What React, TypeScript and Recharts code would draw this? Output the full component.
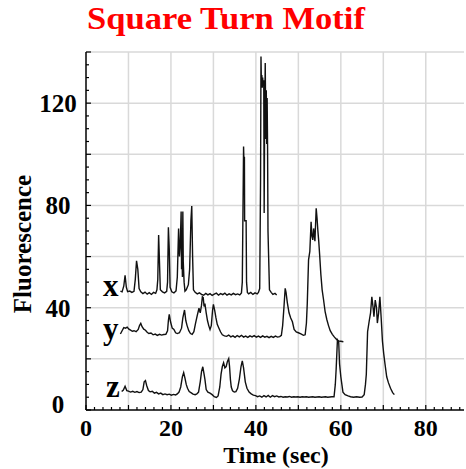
import React from 'react';
import { LineChart, Line, XAxis, YAxis, CartesianGrid, Label } from 'recharts';

// time (sec) / fluorescence pairs
const xTrace: [number, number][] = [
  [8.1, 46.5], [8.5, 46.2], [8.9, 48.5], [9.2, 52.7], [9.5, 48], [9.8, 46.3], [10.3, 46.5], [10.8, 46.0],
  [11.3, 46.4], [11.6, 51], [11.9, 58.3], [12.2, 55], [12.5, 47.5], [12.9, 46.2], [13.4, 45.5], [13.9, 46.1],
  [14.4, 45.3], [14.9, 45.9], [15.4, 45.2], [15.9, 46.0], [16.4, 45.6], [16.7, 47], [16.9, 51], [17.1, 68.4],
  [17.3, 58], [17.5, 47], [18.0, 46.2], [18.5, 45.8], [19.0, 46.4], [19.2, 50], [19.4, 71.5], [19.6, 63],
  [19.8, 48], [20.2, 46.2], [20.7, 45.8], [21.2, 46.6], [21.5, 52], [21.8, 71], [22.0, 60], [22.2, 65],
  [22.4, 77.6], [22.5, 55], [22.6, 62], [22.7, 52], [22.8, 77.6], [22.9, 58], [23.1, 50], [23.3, 46.5],
  [23.6, 47], [24.1, 49], [24.4, 55], [24.7, 74], [24.9, 79.8], [25.1, 60], [25.3, 47], [25.7, 46],
  [26.2, 45.4], [26.7, 45.8], [27.2, 45.2], [27.7, 44.9], [28.2, 45.6], [28.7, 45.0], [29.2, 45.5], [29.7, 44.8],
  [30.2, 45.3], [30.7, 45.7], [31.2, 44.9], [31.7, 45.5], [32.2, 45.1], [32.7, 45.7], [33.2, 44.9], [33.7, 45.4],
  [34.2, 45.0], [34.7, 45.6], [35.2, 45.1], [35.7, 45.4], [36.2, 45.0], [36.6, 45.8], [36.8, 50], [37.0, 85],
  [37.1, 103], [37.2, 96], [37.3, 99], [37.35, 74], [37.7, 74], [37.8, 50], [38.0, 46], [38.3, 45.4],
  [38.8, 46.0], [39.3, 45.2], [39.8, 45.8], [40.3, 45.4], [40.6, 46], [40.9, 47.5], [41.1, 90], [41.2, 138.2],
  [41.3, 127], [41.4, 131], [41.5, 126], [41.6, 130], [41.7, 127], [41.85, 129], [41.95, 77], [42.05, 110],
  [42.2, 135.7], [42.35, 106], [42.45, 125], [42.55, 104], [42.65, 122], [42.75, 103], [42.85, 70], [43.0, 60],
  [43.2, 47], [43.6, 46], [44.0, 45.2], [44.5, 45.6], [44.9, 45.0],
];

const yTrace: [number, number][] = [
  [8.1, 29.7], [8.5, 31], [8.9, 32.2], [9.3, 32.0], [9.7, 32.4], [10.1, 31.6], [10.5, 31.2], [10.9, 30.8],
  [11.3, 31.0], [11.8, 30.6], [12.3, 31.5], [12.6, 33], [12.9, 33.9], [13.2, 32.6], [13.6, 31.6], [14.0, 31.2],
  [14.4, 30.4], [14.8, 29.9], [15.3, 30.1], [15.8, 29.4], [16.3, 29.7], [16.8, 29.2], [17.3, 29.6], [17.8, 29.3],
  [18.3, 29.5], [18.8, 29.6], [19.2, 31], [19.4, 35], [19.6, 37.4], [19.9, 34.5], [20.3, 32], [20.7, 31.5],
  [21.1, 30.2], [21.5, 29.9], [22.0, 30.2], [22.5, 32], [22.8, 36], [23.2, 39.1], [23.5, 35], [23.8, 33],
  [24.2, 31], [24.6, 29.9], [25.0, 29.6], [25.4, 30.6], [25.8, 34], [26.2, 37], [26.6, 39.8], [26.9, 38],
  [27.2, 41], [27.4, 44.3], [27.6, 44], [27.8, 40.5], [28.0, 41.6], [28.3, 38], [28.6, 35], [28.9, 33],
  [29.2, 31.5], [29.5, 33], [29.8, 39], [30.0, 41.3], [30.3, 39], [30.6, 36], [30.9, 33.5], [31.3, 32],
  [31.7, 30.5], [32.1, 29.4], [32.6, 29.0], [33.1, 28.8], [33.6, 29.3], [34.1, 28.6], [34.6, 29.0], [35.1, 28.4],
  [35.6, 29.1], [36.1, 28.6], [36.6, 29.2], [37.1, 28.5], [37.6, 28.9], [38.1, 28.4], [38.6, 29.0], [39.1, 28.6],
  [39.6, 29.1], [40.1, 28.5], [40.6, 28.9], [41.1, 28.4], [41.6, 29.0], [42.1, 28.5], [42.6, 28.8], [43.1, 28.3],
  [43.6, 28.8], [44.1, 28.4], [44.6, 28.9], [45.1, 28.5], [45.6, 28.7], [46.0, 29.2], [46.3, 33], [46.6, 40],
  [46.9, 47.6], [47.1, 46], [47.4, 42], [47.8, 38], [48.2, 36], [48.6, 34.5], [49.0, 31.5], [49.5, 30.5],
  [50.0, 30.2], [50.6, 29.8], [51.2, 29.2], [51.6, 29.4], [51.9, 34], [52.1, 41.7], [52.4, 58.7], [52.7, 62],
  [53.0, 73.6], [53.2, 68], [53.4, 66.5], [53.6, 71], [53.9, 66], [54.2, 78.9], [54.4, 75], [54.6, 70],
  [54.8, 66], [55.0, 61], [55.3, 53], [55.6, 47], [55.9, 43.5], [56.3, 38.5], [56.7, 35.4], [57.1, 33],
  [57.5, 31], [58.0, 29.6], [58.5, 28.5], [59.0, 27.6], [59.5, 27], [60.0, 26.9], [60.6, 26.7],
];

const zTrace: [number, number][] = [
  [8.4, 7.2], [8.8, 7.8], [9.2, 9.3], [9.6, 7.6], [10.0, 7.4], [10.5, 7.0], [11.0, 7.3], [11.5, 6.9],
  [12.0, 7.2], [12.5, 6.8], [13.0, 7.0], [13.4, 8], [13.7, 11], [14.0, 11.5], [14.3, 9.5], [14.7, 7.6],
  [15.1, 7.1], [15.6, 7.3], [16.1, 6.6], [16.6, 6.9], [17.1, 6.3], [17.6, 6.6], [18.1, 6.0], [18.6, 6.3],
  [19.1, 6.0], [19.6, 6.2], [20.1, 5.8], [20.6, 6.1], [21.1, 5.9], [21.5, 6.3], [21.9, 7], [22.3, 9],
  [22.7, 13], [23.0, 14.6], [23.3, 12.5], [23.6, 10], [23.9, 8.5], [24.3, 7.2], [24.7, 6.8], [25.2, 6.2],
  [25.7, 6.0], [26.1, 6.3], [26.5, 7], [26.9, 11], [27.2, 15], [27.5, 16.9], [27.8, 14], [28.0, 12],
  [28.3, 8], [28.7, 7.0], [29.2, 6.6], [29.7, 6.0], [30.2, 5.2], [30.7, 4.9], [31.1, 5.5], [31.5, 9],
  [31.8, 14], [32.1, 17], [32.4, 18.5], [32.7, 16.5], [33.0, 17], [33.3, 19], [33.6, 20.1], [33.8, 17],
  [34.0, 12], [34.2, 9], [34.5, 7.5], [34.9, 7.0], [35.3, 7.2], [35.7, 8.5], [36.1, 12], [36.5, 17],
  [36.8, 19.2], [37.1, 16.5], [37.5, 11], [37.9, 8.5], [38.4, 7], [38.9, 6.3], [39.4, 5.8], [39.9, 5.6],
  [40.4, 5.2], [40.9, 5.5], [41.4, 5.0], [41.9, 5.6], [42.4, 5.1], [42.9, 5.7], [43.4, 5.0], [43.9, 5.6],
  [44.4, 5.2], [44.9, 5.5], [45.4, 5.1], [45.9, 5.3], [46.4, 5.0], [46.9, 5.2], [47.4, 5.1], [47.9, 5.3],
  [48.4, 5.0], [48.9, 5.2], [49.4, 5.1], [49.9, 5.2], [50.4, 5.0], [50.9, 5.2], [51.4, 5.1], [51.9, 5.2],
  [52.4, 5.0], [52.9, 5.1], [53.4, 5.2], [53.9, 5.0], [54.4, 5.1], [54.9, 5.2], [55.4, 5.0], [55.9, 5.1],
  [56.4, 5.2], [56.9, 5.0], [57.4, 5.1], [57.9, 5.2], [58.4, 5.2], [58.7, 10], [58.9, 16], [59.2, 27.4],
  [59.5, 26.5], [59.7, 18], [60.0, 13], [60.5, 7], [61.0, 6], [61.7, 5.5], [62.3, 5.2], [63.0, 5.0],
  [63.7, 5.2], [64.4, 5.0], [65.0, 5.1], [65.5, 6], [65.8, 10], [66.0, 14], [66.3, 30.6], [66.7, 35],
  [67.0, 38], [67.3, 44.3], [67.6, 40], [67.8, 36.5], [68.1, 43], [68.4, 40], [68.6, 34], [68.9, 38],
  [69.2, 44.3], [69.5, 36], [69.8, 26.9], [70.1, 22], [70.4, 18], [70.8, 13], [71.2, 10.7], [71.7, 8.5],
  [72.2, 6.8], [72.6, 6.0],
];

const traceNames = ['x', 'y', 'z'];
const timeTicks = [0, 2, 4, 6, 8, 10, 12, 14, 16, 18, 20, 22, 24, 26, 28, 30, 32, 34, 36, 38, 40, 42, 44,
  46, 48, 50, 52, 54, 56, 58, 60, 62, 64, 66, 68, 70, 72, 74, 76, 78, 80, 82, 84, 86, 88];
const fluorTicks = [0, 5, 10, 15, 20, 25, 30, 35, 40, 45, 50, 55, 60, 65, 70, 75, 80, 85, 90, 95, 100,
  105, 110, 115, 120, 125, 130, 135, 140];
const gridTimes = [10, 20, 30, 40, 50, 60, 70, 80];
const gridFluor = [20, 40, 60, 80, 100, 120, 140];

const SERIF = '"Liberation Serif", "Times New Roman", serif';

const toRows = (trace: [number, number][]) => trace.map(([t, v]) => ({ t, v }));
const traces = [xTrace, yTrace, zTrace].map(toRows);

const TimeTick = ({ x, y, payload }: any) => {
  const v = payload.value;
  return (
    <g>
      <line x1={x} y1={y} x2={x} y2={y - (v % 10 === 0 ? 5 : 3)} stroke="#000" strokeWidth={1.2} />
      {v % 20 === 0 && (
        <text x={x} y={y + 26} textAnchor="middle" fontFamily={SERIF} fontWeight="bold" fontSize={24} fill="#000">
          {v}
        </text>
      )}
    </g>
  );
};

const FluorTick = ({ x, y, payload }: any) => {
  const v = payload.value;
  return (
    <g>
      <line x1={x} y1={y} x2={x + (v % 20 === 0 ? 5 : 3)} y2={y} stroke="#000" strokeWidth={1.2} />
      {v % 40 === 0 && (
        <text x={x - 28} y={y + (v === 0 ? 3 : 9)} textAnchor="middle" fontFamily={SERIF} fontWeight="bold" fontSize={25} fill="#000">
          {v}
        </text>
      )}
    </g>
  );
};

const traceLabel = (name: string) => (props: any) => {
  if (props.index !== 0) return null;
  return (
    <text x={props.x - 2} y={props.y + 5} textAnchor="end" fontFamily={SERIF} fontWeight="bold" fontSize={31} fill="#000">
      {name}
    </text>
  );
};

export default function App() {
  return (
    <div style={{ position: 'absolute', left: 0, top: 0, width: 466, height: 469, background: '#fff', overflow: 'hidden' }}>
      <svg width={466} height={44} style={{ position: 'absolute', left: 0, top: 0 }}>
        <text
          x={87}
          y={29}
          fontFamily={SERIF}
          fontWeight="bold"
          fontSize={31}
          fill="#ff0000"
          textLength={278}
          lengthAdjust="spacingAndGlyphs"
        >
          Square Turn Motif
        </text>
      </svg>
      <LineChart width={466} height={469} margin={{ top: 52, right: 2, bottom: 0, left: 0 }}>
        <CartesianGrid
          stroke="#d9d9d9"
          strokeWidth={1.5}
          horizontalValues={gridFluor}
          verticalValues={gridTimes}
        />
        <XAxis
          dataKey="t"
          type="number"
          domain={[0, 89]}
          ticks={timeTicks}
          interval={0}
          height={59}
          tickSize={0}
          tickMargin={0}
          tickLine={false}
          tick={<TimeTick />}
          axisLine={{ stroke: '#000', strokeWidth: 1.5 }}
          allowDuplicatedCategory={false}
        >
          <Label
            content={({ viewBox }: any) => (
              <text
                x={viewBox.x + viewBox.width / 2 + 1}
                y={viewBox.y + 53}
                textAnchor="middle"
                fontFamily={SERIF}
                fontWeight="bold"
                fontSize={24}
                fill="#000"
              >
                Time (sec)
              </text>
            )}
          />
        </XAxis>
        <YAxis
          type="number"
          domain={[0, 140]}
          ticks={fluorTicks}
          interval={0}
          width={86}
          tickSize={0}
          tickMargin={0}
          tickLine={false}
          tick={<FluorTick />}
          axisLine={{ stroke: '#000', strokeWidth: 1.5 }}
        >
          <Label
            content={() => (
              <text
                x={31}
                y={244}
                transform="rotate(-90 31 244)"
                textAnchor="middle"
                fontFamily={SERIF}
                fontWeight="bold"
                fontSize={25}
                fill="#000"
              >
                Fluorescence
              </text>
            )}
          />
        </YAxis>
        {traces.map((rows, i) => (
          <Line
            key={traceNames[i]}
            data={rows}
            dataKey="v"
            type="linear"
            stroke="#111"
            strokeWidth={1.4}
            dot={false}
            label={traceLabel(traceNames[i])}
            isAnimationActive={false}
          />
        ))}
      </LineChart>
    </div>
  );
}
